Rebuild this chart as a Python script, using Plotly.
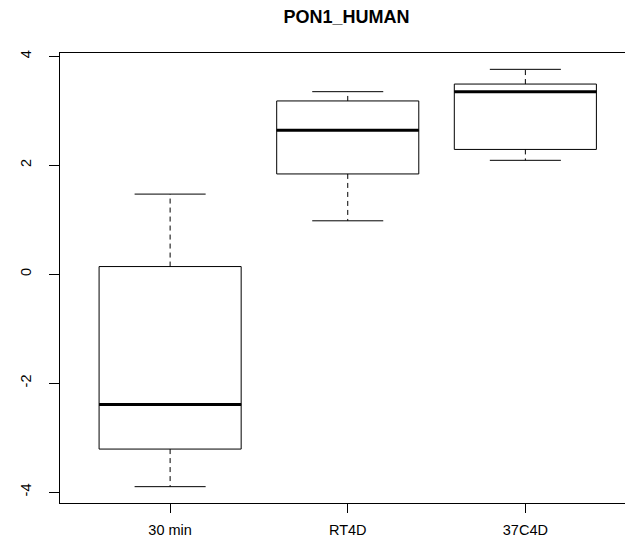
import plotly.graph_objects as go

# Five-number summaries per condition
categories = ["30 min", "RT4D", "37C4D"]
lower_whisker = [-3.90, 0.98, 2.09]
q1 = [-3.21, 1.84, 2.29]
median = [-2.39, 2.64, 3.35]
q3 = [0.14, 3.18, 3.49]
upper_whisker = [1.47, 3.35, 3.76]

y_tick_vals = [-4, -2, 0, 2, 4]
y_tick_text = ["-4", "-2", "0", "2", "4"]

FONT = "Liberation Sans, Arial, sans-serif"
BOX_HALF = 0.4
CAP_HALF = 0.2
positions = list(range(1, len(categories) + 1))

fig = go.Figure()

for i, pos in enumerate(positions):
    # box body (fences pinned to the hinges; whiskers drawn separately)
    fig.add_trace(go.Box(
        x=[pos], q1=[q1[i]], median=[median[i]], q3=[q3[i]],
        lowerfence=[q1[i]], upperfence=[q3[i]],
        width=2 * BOX_HALF, boxpoints=False, whiskerwidth=0,
        fillcolor="white", line=dict(color="black", width=1),
        showlegend=False, hoverinfo="skip",
    ))
    # dashed whiskers
    fig.add_trace(go.Scatter(
        x=[pos, pos, None, pos, pos],
        y=[q3[i], upper_whisker[i], None, q1[i], lower_whisker[i]],
        mode="lines", line=dict(color="black", width=1, dash="5px,4px"),
        showlegend=False, hoverinfo="skip",
    ))
    # whisker caps
    fig.add_trace(go.Scatter(
        x=[pos - CAP_HALF, pos + CAP_HALF, None, pos - CAP_HALF, pos + CAP_HALF],
        y=[upper_whisker[i], upper_whisker[i], None, lower_whisker[i], lower_whisker[i]],
        mode="lines", line=dict(color="black", width=1),
        showlegend=False, hoverinfo="skip",
    ))
    # thick median bar
    fig.add_trace(go.Scatter(
        x=[pos - BOX_HALF, pos + BOX_HALF],
        y=[median[i], median[i]],
        mode="lines", line=dict(color="black", width=3),
        showlegend=False, hoverinfo="skip",
    ))

fig.update_layout(
    width=625, height=539,
    margin=dict(l=60, r=0, t=53, b=36),
    paper_bgcolor="white", plot_bgcolor="white",
    font=dict(family=FONT, size=14.5, color="black"),
    title=dict(
        text="<b>PON1_HUMAN</b>",
        font=dict(family=FONT, size=18, color="black"),
        x=346.5 / 625, xref="container", xanchor="center",
        y=1 - 17 / 539, yref="container", yanchor="middle",
    ),
    xaxis=dict(
        range=[0.38, 3.561], tickmode="array",
        tickvals=positions, ticktext=categories,
        showgrid=False, zeroline=False,
        showline=True, mirror=True, linecolor="black", linewidth=1,
        ticks="outside", ticklen=9, tickcolor="black", tickwidth=1,
        ticklabelstandoff=5,
        tickfont=dict(family=FONT, size=14.5, color="black"),
    ),
    yaxis=dict(
        range=[-4.20, 4.06], tickmode="array",
        tickvals=y_tick_vals, ticktext=y_tick_text,
        tickangle=-90,
        showgrid=False, zeroline=False,
        showline=True, mirror=False, linecolor="black", linewidth=1,
        ticks="outside", ticklen=10, tickcolor="black", tickwidth=1,
        ticklabelstandoff=12,
        tickfont=dict(family=FONT, size=14.5, color="black"),
    ),
)

fig.write_html("out.html")
